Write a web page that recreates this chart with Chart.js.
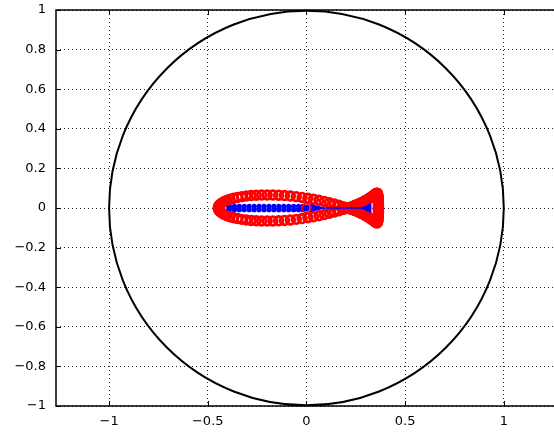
<!DOCTYPE html>
<html>
<head>
<meta charset="utf-8">
<script src="https://cdn.jsdelivr.net/npm/chart.js@4/dist/chart.umd.min.js"></script>
<style>
html,body{margin:0;padding:0;background:#fff;overflow:hidden;width:554px;height:432px;}
canvas{display:block;}
</style>
</head>
<body>
<canvas id="c" width="562" height="432"></canvas>
<script>
// ---- data ----
const xTicks = [-1, -0.5, 0, 0.5, 1];
const yTicks = [-1, -0.8, -0.6, -0.4, -0.2, 0, 0.2, 0.4, 0.6, 0.8, 1];
const xRange = [-1.269, 1.259];
const yRange = [-1, 1];
const circleRadius = 1;           // unit circle
const circleCenter = [0, 0];

// red fish outline markers (full loop)
const fishX = [
 -0.447,-0.4457,-0.4419,-0.4356,-0.4269,-0.4158,-0.4023,-0.3867,-0.3689,-0.3493,-0.3278,-0.3046,-0.2800,-0.2540,-0.2270,-0.1990,-0.1702,-0.1409,-0.1113,-0.0814,-0.0517,-0.0221,0.0071,0.0357,0.0635,0.0905,0.1165,0.1414,0.1649,0.1872,0.208,
 0.2274,0.2452,0.262,0.277,0.291,0.304,0.316,0.326,0.335,0.342,0.348,0.352,0.356,0.358,0.360,0.361,0.362,0.363,0.363,0.364,0.364,0.364,0.365,0.365,0.365,0.365,0.365,0.365,0.365,0.365,
 0.365,0.365,0.365,0.365,0.365,0.365,0.365,0.364,0.364,0.364,0.363,0.363,0.362,0.361,0.360,0.358,0.356,0.352,0.348,0.342,0.335,0.326,0.316,0.304,0.291,0.277,0.262,0.2452,0.2274,0.208,
 0.1872,0.1649,0.1414,0.1165,0.0905,0.0635,0.0357,0.0071,-0.0221,-0.0517,-0.0814,-0.1113,-0.1409,-0.1702,-0.1990,-0.2270,-0.2540,-0.2800,-0.3046,-0.3278,-0.3493,-0.3689,-0.3867,-0.4023,-0.4158,-0.4269,-0.4356,-0.4419,-0.4457
];
const fishY = [
 0,0.0069,0.0137,0.0204,0.0268,0.033,0.0388,0.0442,0.049,0.0534,0.0572,0.0603,0.0628,0.0646,0.0656,0.066,0.0656,0.0646,0.0628,0.0603,0.0572,0.0534,0.049,0.0442,0.0388,0.033,0.0268,0.0204,0.0137,0.0069,0,
 -0.0069,-0.0137,-0.020,-0.027,-0.034,-0.041,-0.048,-0.055,-0.061,-0.066,-0.070,-0.073,-0.075,-0.075,-0.073,-0.069,-0.064,-0.058,-0.052,-0.046,-0.040,-0.034,-0.028,-0.022,-0.017,-0.012,-0.008,-0.004,-0.002,0,
 0.002,0.004,0.008,0.012,0.017,0.022,0.028,0.034,0.040,0.046,0.052,0.058,0.064,0.069,0.073,0.075,0.075,0.073,0.070,0.066,0.061,0.055,0.048,0.041,0.034,0.027,0.020,0.0137,0.0069,0,
 -0.0069,-0.0137,-0.0204,-0.0268,-0.033,-0.0388,-0.0442,-0.049,-0.0534,-0.0572,-0.0603,-0.0628,-0.0646,-0.0656,-0.066,-0.0656,-0.0646,-0.0628,-0.0603,-0.0572,-0.0534,-0.049,-0.0442,-0.0388,-0.033,-0.0268,-0.0204,-0.0137,-0.0069
];

// blue dots along the axis (upper and lower rows)
const blueX      = [-0.393,-0.385,-0.365,-0.340,-0.315,-0.290,-0.265,-0.240,-0.215,-0.190,-0.165,-0.140,-0.115,-0.090,-0.065,-0.040,-0.018];
const blueUpperY = [0,0.003,0.0085,0.0085,0.0085,0.0085,0.0085,0.0085,0.0085,0.0085,0.0085,0.0085,0.0085,0.0085,0.0085,0.0085,0.0085];
const blueLowerY = [0,-0.003,-0.0085,-0.0085,-0.0085,-0.0085,-0.0085,-0.0085,-0.0085,-0.0085,-0.0085,-0.0085,-0.0085,-0.0085,-0.0085,-0.0085,-0.0085];
// blue wedge/tail outline
const blueShapeX = [0.02, 0.088, 0.279, 0.326, 0.326, 0.279, 0.088, 0.02, 0.02];
const blueShapeY = [0.017, 0, 0, 0.021, -0.021, 0, 0, -0.017, 0.017];
// centre marker
const centerX = [0];
const centerY = [0];

// ---- build ----
const pts = (xs, ys) => xs.map((x, i) => ({x: x, y: ys[i]}));
const fmt = v => (v < 0 ? '\u2212' + String(Math.abs(v)) : String(v));

Chart.defaults.font.family = '"DejaVu Sans", "Liberation Sans", Arial, sans-serif';
Chart.defaults.font.size = 13;
Chart.defaults.color = '#000';

const boxPlugin = {
  id: 'box',
  afterDraw(chart) {
    const {ctx, chartArea: a, scales: {x, y}} = chart;
    ctx.save();
    ctx.strokeStyle = '#000';
    ctx.lineWidth = 1;
    ctx.beginPath();
    xTicks.forEach(v => {
      const px = Math.round(x.getPixelForValue(v)) + 0.5;
      ctx.moveTo(px, a.bottom); ctx.lineTo(px, a.bottom - 5);
      ctx.moveTo(px, a.top); ctx.lineTo(px, a.top + 5);
    });
    yTicks.forEach(v => {
      const py = Math.round(y.getPixelForValue(v)) + 0.5;
      ctx.moveTo(a.left, py); ctx.lineTo(a.left + 5, py);
    });
    ctx.stroke();
    ctx.lineWidth = 1.5;
    ctx.beginPath();
    ctx.moveTo(a.right + 10, a.top); ctx.lineTo(a.left, a.top);
    ctx.lineTo(a.left, a.bottom); ctx.lineTo(a.right + 10, a.bottom);
    ctx.stroke();
    ctx.restore();
  }
};

new Chart(document.getElementById('c'), {
  type: 'scatter',
  data: {
    datasets: [
      { // red ring at centre
        data: pts(centerX, centerY),
        pointRadius: 4.5, pointBorderWidth: 1.8,
        pointBorderColor: '#ff0000', pointBackgroundColor: 'rgba(0,0,0,0)'
      },
      { // blue centre dot
        data: pts(centerX, centerY),
        pointRadius: 3.2, pointBorderWidth: 0,
        pointBackgroundColor: '#0000ff'
      },
      { // blue wedge + tail
        data: pts(blueShapeX, blueShapeY),
        showLine: true, fill: 'shape', tension: 0,
        borderColor: '#0000ff', borderWidth: 1.3, backgroundColor: '#0000ff',
        pointRadius: 0
      },
      {
        data: pts(blueX, blueUpperY),
        pointRadius: 2.6, pointBorderWidth: 0, pointBackgroundColor: '#0000ff'
      },
      {
        data: pts(blueX, blueLowerY),
        pointRadius: 2.6, pointBorderWidth: 0, pointBackgroundColor: '#0000ff'
      },
      { // red fish markers
        data: pts(fishX, fishY),
        pointRadius: 4.3, pointBorderWidth: 2.8,
        pointBorderColor: '#ff0000', pointBackgroundColor: 'rgba(0,0,0,0)'
      },
      { // unit circle
        data: pts([circleCenter[0]], [circleCenter[1]]),
        clip: false,
        pointRadius: (ctx) => {
          const xs = ctx.chart.scales.x;
          return Math.abs(xs.getPixelForValue(circleRadius) - xs.getPixelForValue(0));
        },
        pointBorderWidth: 2, pointBorderColor: '#000', pointBackgroundColor: 'rgba(0,0,0,0)'
      }
    ]
  },
  options: {
    responsive: false,
    animation: false,
    events: [],
    layout: {padding: {top: 10, left: 0, right: 0, bottom: 0}},
    plugins: {legend: {display: false}, tooltip: {enabled: false}},
    scales: {
      x: {
        type: 'linear', min: xRange[0], max: xRange[1],
        afterBuildTicks: s => { s.ticks = xTicks.map(v => ({value: v})); },
        afterFit: s => { s.height = 26; s.paddingLeft = 0; s.paddingRight = 0; },
        grid: {color: 'rgba(0,0,0,0.85)', lineWidth: 1, drawTicks: false},
        border: {display: false, dash: [1, 3]},
        ticks: {padding: 8, autoSkip: false, maxRotation: 0, callback: v => fmt(v)}
      },
      y: {
        type: 'linear', min: yRange[0], max: yRange[1],
        afterBuildTicks: s => { s.ticks = yTicks.map(v => ({value: v})); },
        afterFit: s => { s.width = 56; s.paddingTop = 0; s.paddingBottom = 0; },
        grid: {color: 'rgba(0,0,0,0.85)', lineWidth: 1, drawTicks: false},
        border: {display: false, dash: [1, 3]},
        ticks: {padding: 10, autoSkip: false, callback: v => fmt(v)}
      }
    }
  },
  plugins: [boxPlugin]
});
</script>
</body>
</html>
